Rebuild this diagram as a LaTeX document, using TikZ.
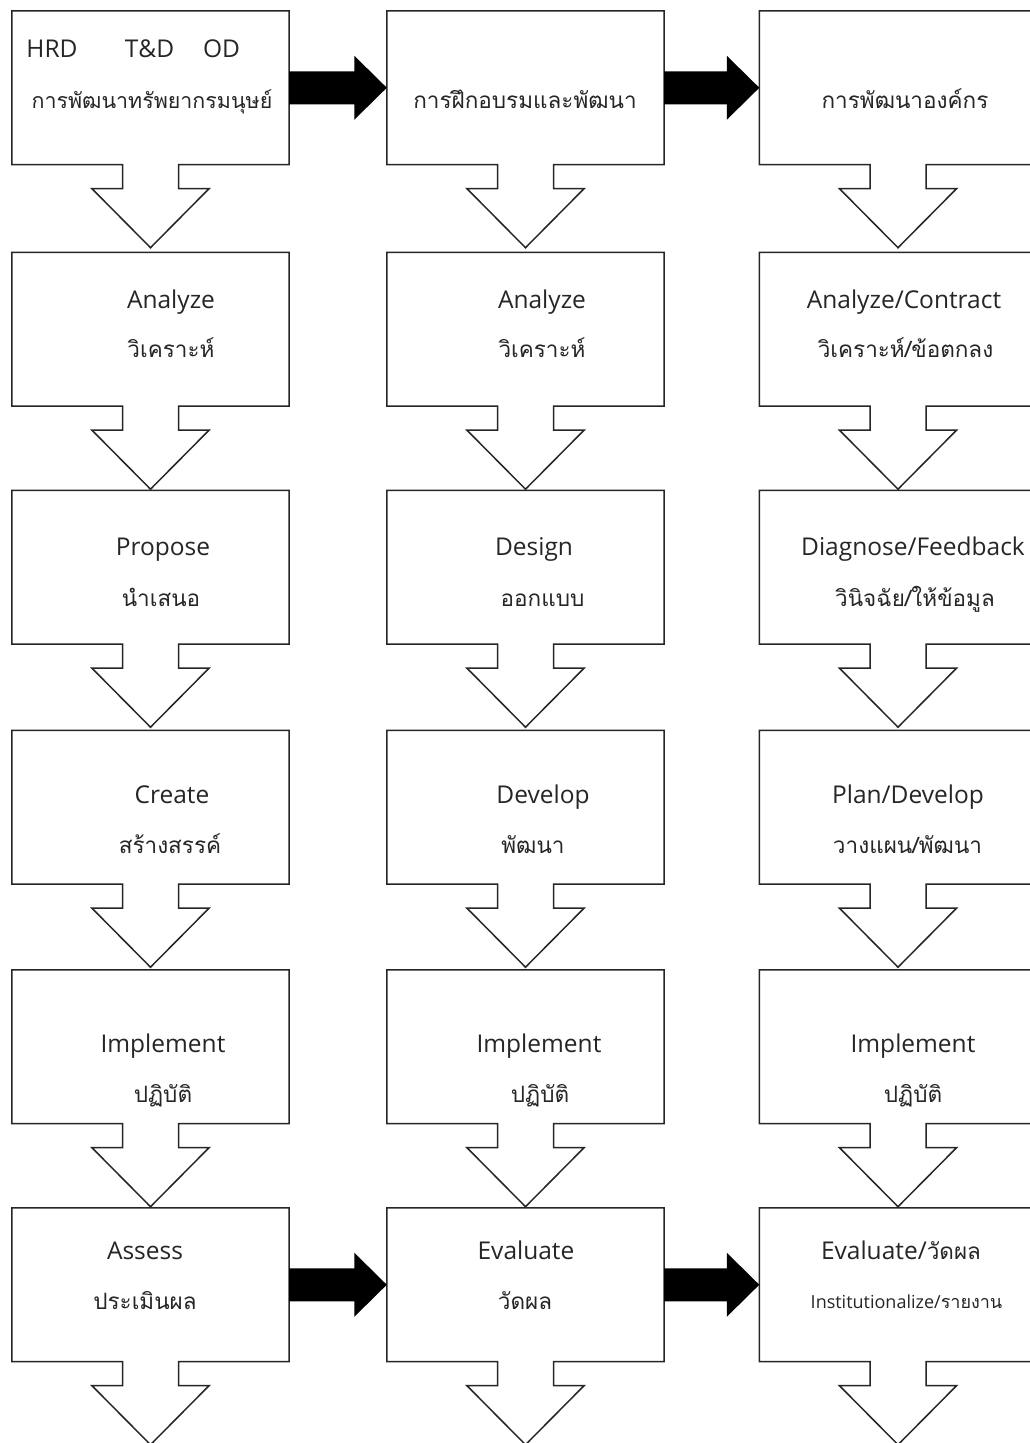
\documentclass[tikz,border=0pt]{standalone}
\usepackage{fontspec}
\setmainfont{Open Sans}
\newfontfamily\thai[Script=Thai]{Loma}
\usetikzlibrary{calc}

% one flow box with its open down-arrow underneath
\newcommand\flowbox[3]{%
  \node[boxbody] (#1) at (#2,#3+76.75) {};
  \draw[boxline] (#1.north west) -- (#1.north east) -- (#1.south east)
    -- ($(#1.south)+(28,0)$) -- ++(0,24) -- ++(30.5,0)
    -- ($(#1.south)+(0,83)$)
    -- ($(#1.south)+(-58.5,24)$) -- ++(30.5,0) -- ++(0,-24)
    -- (#1.south west) -- cycle;
}
% solid black block arrow from one box to the next
\newcommand\blockarrow[2]{%
  \fill[black] ($(#1.east)+(0,-16.5)$) -- ($(#2.west)+(-32.5,-16.5)$)
    -- ($(#2.west)+(-32.5,-32)$) -- (#2.west) -- ($(#2.west)+(-32.5,32)$)
    -- ($(#2.west)+(-32.5,16.5)$) -- ($(#1.east)+(0,16.5)$) -- cycle;
}

\tikzset{
  boxbody/.style={draw=none, minimum width=277pt, minimum height=153.5pt, inner sep=0pt},
  boxline/.style={draw=black!85, line width=1.5pt, line join=miter, fill=white},
  lat/.style={anchor=base, inner sep=0pt, font=\fontsize{24.5}{29}\selectfont, text=black!85},
  th/.style={anchor=base, inner sep=0pt, font=\fontsize{22.5}{27}\selectfont\thai, text=black!85},
  small/.style={anchor=base, inner sep=0pt, font=\fontsize{18}{22}\selectfont, text=black!85},
}

\begin{document}
\begin{tikzpicture}[x=1pt,y=-1pt]
\useasboundingbox (0,0) rectangle (1030,1443);
\clip (0,0) rectangle (1030,1443);
\fill[white] (0,0) rectangle (1030,1443);

% boxes: column centres 150.5 / 525.5 / 898
\flowbox{a1}{150.5}{11}     \flowbox{b1}{525.5}{11}     \flowbox{c1}{898}{11}
\flowbox{a2}{150.5}{252.5}  \flowbox{b2}{525.5}{252.5}  \flowbox{c2}{898}{252.5}
\flowbox{a3}{150.5}{490.5}  \flowbox{b3}{525.5}{490.5}  \flowbox{c3}{898}{490.5}
\flowbox{a4}{150.5}{730.5}  \flowbox{b4}{525.5}{730.5}  \flowbox{c4}{898}{730.5}
\flowbox{a5}{150.5}{970}    \flowbox{b5}{525.5}{970}    \flowbox{c5}{898}{970}
\flowbox{a6}{150.5}{1208}   \flowbox{b6}{525.5}{1208}   \flowbox{c6}{898}{1208}

% links between the columns
\blockarrow{a1}{b1}
\blockarrow{b1}{c1}
\blockarrow{a6}{b6}
\blockarrow{b6}{c6}

% row 1
\node[lat] (hrd) at (52,57) {HRD};
\node[lat] (td) at (149.5,57) {T\&D};
\node[lat] (od) at (221.5,57) {OD};
\node[th, font=\fontsize{21.4}{26}\selectfont\thai] (a1t) at (152,108) {การพัฒนาทรัพยากรมนุษย์};
\node[th] (b1t) at (525,108) {การฝึกอบรมและพัฒนา};
\node[th] (c1t) at (905,108) {การพัฒนาองค์กร};

% row 2
\node[lat] (a2e) at (171,308) {Analyze};
\node[th] (a2t) at (171,357) {วิเคราะห์};
\node[lat] (b2e) at (542,308) {Analyze};
\node[th] (b2t) at (542,357) {วิเคราะห์};
\node[lat] (c2e) at (904,308) {Analyze/Contract};
\node[th] (c2t) at (905.5,357) {วิเคราะห์/ข้อตกลง};

% row 3
\node[lat] (a3e) at (163,555) {Propose};
\node[th] (a3t) at (161,606) {นำเสนอ};
\node[lat] (b3e) at (534,555) {Design};
\node[th] (b3t) at (542.5,606) {ออกแบบ};
\node[lat] (c3e) at (913,555) {Diagnose/Feedback};
\node[th] (c3t) at (915,606) {วินิจฉัย/ให้ข้อมูล};

% row 4
\node[lat] (a4e) at (172,803) {Create};
\node[th] (a4t) at (170,853) {สร้างสรรค์};
\node[lat] (b4e) at (543,803) {Develop};
\node[th] (b4t) at (533,853) {พัฒนา};
\node[lat] (c4e) at (908,803) {Plan/Develop};
\node[th] (c4t) at (907.5,853) {วางแผน/พัฒนา};

% row 5
\node[lat] (a5e) at (163,1052) {Implement};
\node[th] (a5t) at (163,1102) {ปฏิบัติ};
\node[lat] (b5e) at (539,1052) {Implement};
\node[th] (b5t) at (540,1102) {ปฏิบัติ};
\node[lat] (c5e) at (913,1052) {Implement};
\node[th] (c5t) at (913,1102) {ปฏิบัติ};

% row 6
\node[lat] (a6e) at (145,1259) {Assess};
\node[th] (a6t) at (145,1309) {ประเมินผล};
\node[lat] (b6e) at (526,1259) {Evaluate};
\node[th] (b6t) at (525,1309) {วัดผล};
\node[lat] (c6e) at (901,1259) {Evaluate/{\fontsize{22.5}{27}\selectfont\thai วัดผล}};
\node[small] (c6t) at (906.5,1308) {Institutionalize/{\thai รายงาน}};
\end{tikzpicture}
\end{document}
